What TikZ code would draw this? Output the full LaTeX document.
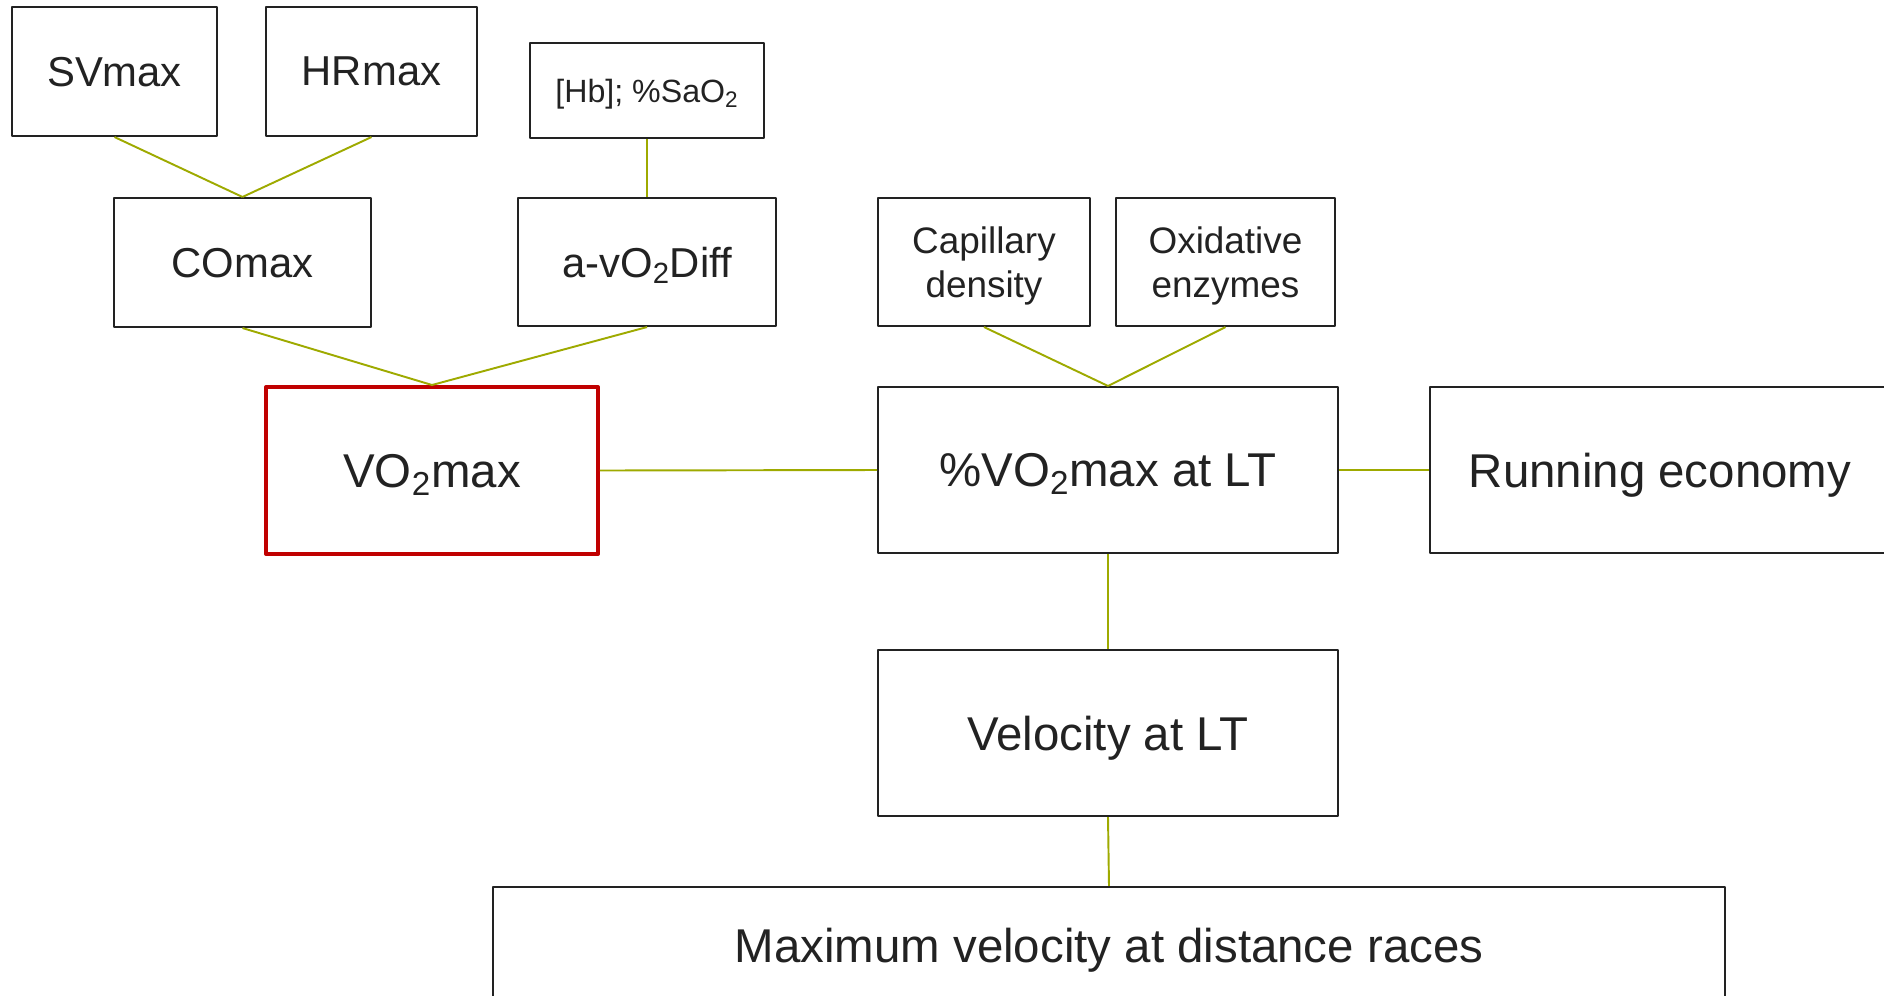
\documentclass[tikz,border=0pt]{standalone}
\usepackage{fontspec}
\setmainfont{Liberation Sans}
\definecolor{linkgreen}{RGB}{158,170,0}
\definecolor{boxgray}{RGB}{34,34,34}
\definecolor{boxred}{RGB}{192,0,0}
\begin{document}
\begin{tikzpicture}[x=0.02cm, y=-0.02cm, line join = round,
	box/.style = {draw=boxgray, line width=1.2pt, text=boxgray, inner sep=0pt, text depth=0pt, align=center},
	link/.style = {draw=linkgreen, line width=1.1pt},
	fbig/.style = {font=\fontsize{27}{32}\selectfont},
	fmid/.style = {font=\fontsize{23.8}{28.5}\selectfont},
	fsmall/.style = {font=\fontsize{21}{25.2}\selectfont},
	ftiny/.style = {font=\fontsize{18.3}{22}\selectfont}]
	%Khung hình
	\clip (0,0) rectangle (1884,995);
	%Hàng trên
	\node[box, fmid, minimum width=4.10cm, minimum height=2.58cm] (sv) at (114.5,71.5) {SVmax};
	\node[box, fmid, minimum width=4.22cm, minimum height=2.58cm] (hr) at (371.5,71.5) {HRmax};
	\node[box, ftiny, minimum width=4.68cm, minimum height=1.90cm] (hb) at (647,90.5) {[Hb]; \%SaO\textsubscript{2}};
	%Hàng thứ hai
	\node[box, fmid, minimum width=5.14cm, minimum height=2.58cm] (co) at (242.5,262.5) {COmax};
	\node[box, fmid, minimum width=5.16cm, minimum height=2.56cm] (avo) at (647,262) {a-vO\textsubscript{2}Diff};
	\node[box, fsmall, minimum width=4.24cm, minimum height=2.56cm] (cap) at (984,262) {Capillary\\density};
	\node[box, fsmall, minimum width=4.38cm, minimum height=2.56cm] (oxi) at (1225.5,262) {Oxidative\\enzymes};
	%Hàng giữa
	\node[box, fbig, draw=boxred, line width=2.3pt, minimum width=6.64cm, minimum height=3.34cm] (vo) at (432,470.5) {VO\textsubscript{2}max};
	\node[box, fbig, minimum width=9.20cm, minimum height=3.32cm] (pvo) at (1108,470) {\%VO\textsubscript{2}max at LT};
	\node[box, fbig, minimum width=9.20cm, minimum height=3.32cm] (re) at (1660,470) {Running economy};
	%Hàng dưới
	\node[box, fbig, minimum width=9.20cm, minimum height=3.32cm] (vlt) at (1108,733) {Velocity at LT};
	\node[box, fbig, minimum width=24.64cm, minimum height=2.32cm] (vmax) at (1109,945) {Maximum velocity at distance races};
	%Các đường nối
	\draw[link] (sv.south) -- (co.north);
	\draw[link] (hr.south) -- (co.north);
	\draw[link] (hb.south) -- (avo.north);
	\draw[link] (co.south) -- (vo.north);
	\draw[link] (avo.south) -- (vo.north);
	\draw[link] (cap.south) -- (pvo.north);
	\draw[link] (oxi.south) -- (pvo.north);
	\draw[link] (vo.east) -- (pvo.west);
	\draw[link] (pvo.east) -- (re.west);
	\draw[link] (pvo.south) -- (vlt.north);
	\draw[link] (vlt.south) -- (vmax.north);
\end{tikzpicture}
\end{document}
